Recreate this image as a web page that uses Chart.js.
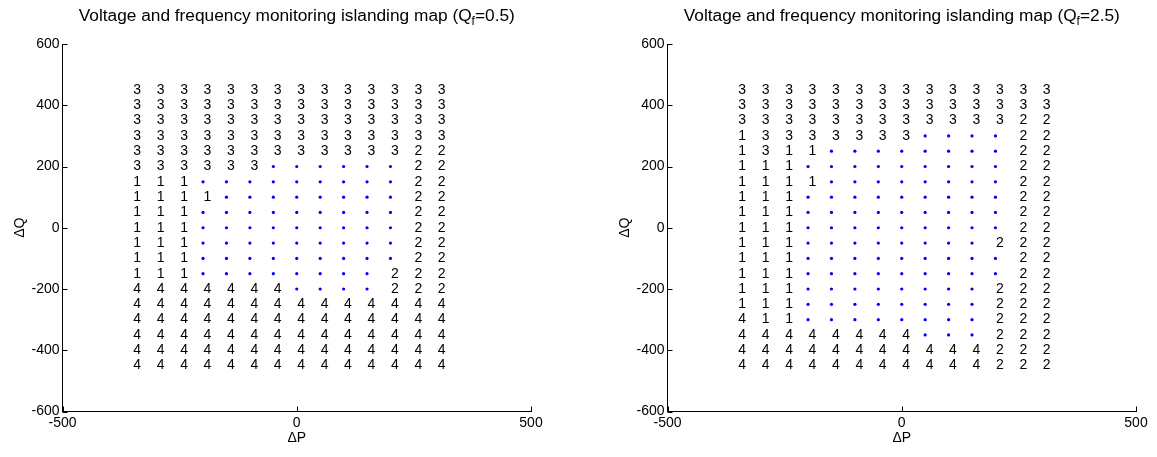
<!DOCTYPE html>
<html>
<head>
<meta charset="utf-8">
<script src="https://cdn.jsdelivr.net/npm/chart.js@4.4.0/dist/chart.umd.min.js"></script>
<style>
    html, body { margin: 0; padding: 0; background: #fff; }
    body { width: 1157px; height: 457px; position: relative; overflow: hidden; }
    canvas { position: absolute; top: 0; }
</style>
</head>
<body>
<canvas id="mapLow" width="560" height="457" style="left:0px"></canvas>
<canvas id="mapHigh" width="560" height="457" style="left:605px"></canvas>
<script>
'use strict';

// grid of operating points
var deltaP = [-350, -300, -250, -200, -150, -100, -50, 0, 50, 100, 150, 200, 250, 300];
var deltaQ = [450, 400, 350, 300, 250, 200, 150, 100, 50, 0, -50, -100, -150, -200, -250, -300, -350, -400, -450];

var pTicks = [-500, 0, 500];
var qTicks = [-600, -400, -200, 0, 200, 400, 600];

// one string per deltaQ row, one char per deltaP column
// '.' = not detected (blue dot), digit = trip code
var mapQf05 = [
    '33333333333333',
    '33333333333333',
    '33333333333333',
    '33333333333333',
    '33333333333322',
    '333333......22',
    '111.........22',
    '1111........22',
    '111.........22',
    '111.........22',
    '111.........22',
    '111.........22',
    '111........222',
    '4444444....222',
    '44444444444444',
    '44444444444444',
    '44444444444444',
    '44444444444444',
    '44444444444444'
];

var mapQf25 = [
    '33333333333333',
    '33333333333333',
    '33333333333322',
    '13333333....22',
    '1311........22',
    '111.........22',
    '1111........22',
    '111.........22',
    '111.........22',
    '111.........22',
    '111........222',
    '111.........22',
    '111.........22',
    '111........222',
    '111........222',
    '411........222',
    '44444444...222',
    '44444444444222',
    '44444444444222'
];

var FONT = '"Liberation Sans", Arial, Helvetica, sans-serif';

function splitMap(map) {
    var dots = [];
    var codes = [];
    map.forEach(function(row, r) {
        row.split('').forEach(function(c, k) {
            var pt = { x: deltaP[k], y: deltaQ[r] };
            if (c === '.') {
                dots.push(pt);
            } else {
                pt.code = c;
                codes.push(pt);
            }
        });
    });
    return { dots: dots, codes: codes };
}

var islandPlugin = {
    id: 'island',
    afterDatasetsDraw: function(chart) {
        var ctx = chart.ctx;
        var meta = chart.getDatasetMeta(1);
        var ds = chart.data.datasets[1];
        ctx.save();
        ctx.fillStyle = '#000';
        ctx.font = '14px ' + FONT;
        ctx.textAlign = 'left';
        ctx.textBaseline = 'middle';
        meta.data.forEach(function(el, i) {
            ctx.fillText(ds.data[i].code, el.x + 0.5, el.y);
        });
        ctx.restore();
    },
    afterDraw: function(chart, args, opts) {
        var ctx = chart.ctx;
        var area = chart.chartArea;
        var xs = chart.scales.x;
        var ys = chart.scales.y;

        // inward tick marks
        ctx.save();
        ctx.strokeStyle = '#000';
        ctx.lineWidth = 1;
        ctx.beginPath();
        xs.ticks.forEach(function(t) {
            var px = Math.round(xs.getPixelForValue(t.value)) + 0.5;
            ctx.moveTo(px, area.bottom);
            ctx.lineTo(px, area.bottom - 5);
        });
        ys.ticks.forEach(function(t) {
            var py = Math.round(ys.getPixelForValue(t.value)) + 0.5;
            ctx.moveTo(area.left, py);
            ctx.lineTo(area.left + 5, py);
        });
        ctx.stroke();

        // title with subscript
        var head = 'Voltage and frequency monitoring islanding map (Q';
        var tail = '=' + opts.qf + ')';
        var big = '17.3px ' + FONT;
        var small = '12px ' + FONT;
        ctx.fillStyle = '#000';
        ctx.textBaseline = 'alphabetic';
        ctx.textAlign = 'left';
        ctx.font = big;
        var w1 = ctx.measureText(head).width;
        var w3 = ctx.measureText(tail).width;
        ctx.font = small;
        var w2 = ctx.measureText('f').width;
        var x0 = (area.left + area.right) / 2 - (w1 + w2 + w3) / 2;
        var base = 21;
        ctx.font = big;
        ctx.fillText(head, x0, base);
        ctx.font = small;
        ctx.fillText('f', x0 + w1, base + 4);
        ctx.font = big;
        ctx.fillText(tail, x0 + w1 + w2, base);
        ctx.restore();
    }
};

function initMap(canvasId, map, qf) {
    var parts = splitMap(map);
    return new Chart(document.getElementById(canvasId), {
        type: 'scatter',
        data: {
            datasets: [{
                label: 'no trip',
                data: parts.dots,
                pointRadius: 1.6,
                pointBorderWidth: 0,
                pointBackgroundColor: '#0000ff',
                pointBorderColor: '#0000ff'
            }, {
                label: 'trip code',
                data: parts.codes,
                pointRadius: 0,
                pointHoverRadius: 0
            }]
        },
        options: {
            responsive: false,
            animation: false,
            devicePixelRatio: 1,
            layout: { padding: { top: 44, right: 29, left: 0, bottom: 0 } },
            plugins: {
                legend: { display: false },
                tooltip: { enabled: false },
                title: { display: false },
                island: { qf: qf }
            },
            scales: {
                x: {
                    type: 'linear',
                    min: -500,
                    max: 500,
                    afterBuildTicks: function(scale) {
                        scale.ticks = pTicks.map(function(v) { return { value: v }; });
                    },
                    afterFit: function(scale) { scale.height = 45.5; },
                    grid: { display: false, drawTicks: false },
                    border: { display: true, color: '#000', width: 1 },
                    ticks: {
                        color: '#000',
                        padding: 3,
                        maxRotation: 0,
                        autoSkip: false,
                        font: { family: FONT, size: 14 }
                    },
                    title: {
                        display: true,
                        text: '\u0394P',
                        color: '#000',
                        font: { family: FONT, size: 14 },
                        padding: { top: 0, bottom: 10.5 }
                    }
                },
                y: {
                    type: 'linear',
                    min: -600,
                    max: 600,
                    afterBuildTicks: function(scale) {
                        scale.ticks = qTicks.map(function(v) { return { value: v }; });
                    },
                    afterFit: function(scale) { scale.width = 62.5; },
                    grid: { display: false, drawTicks: false },
                    border: { display: true, color: '#000', width: 1 },
                    ticks: {
                        color: '#000',
                        padding: 3,
                        autoSkip: false,
                        font: { family: FONT, size: 14 }
                    },
                    title: {
                        display: true,
                        text: '\u0394Q',
                        color: '#000',
                        font: { family: FONT, size: 14 },
                        padding: { top: 11.5, bottom: 0 }
                    }
                }
            }
        },
        plugins: [islandPlugin]
    });
}

initMap('mapLow', mapQf05, '0.5');
initMap('mapHigh', mapQf25, '2.5');
</script>
</body>
</html>
